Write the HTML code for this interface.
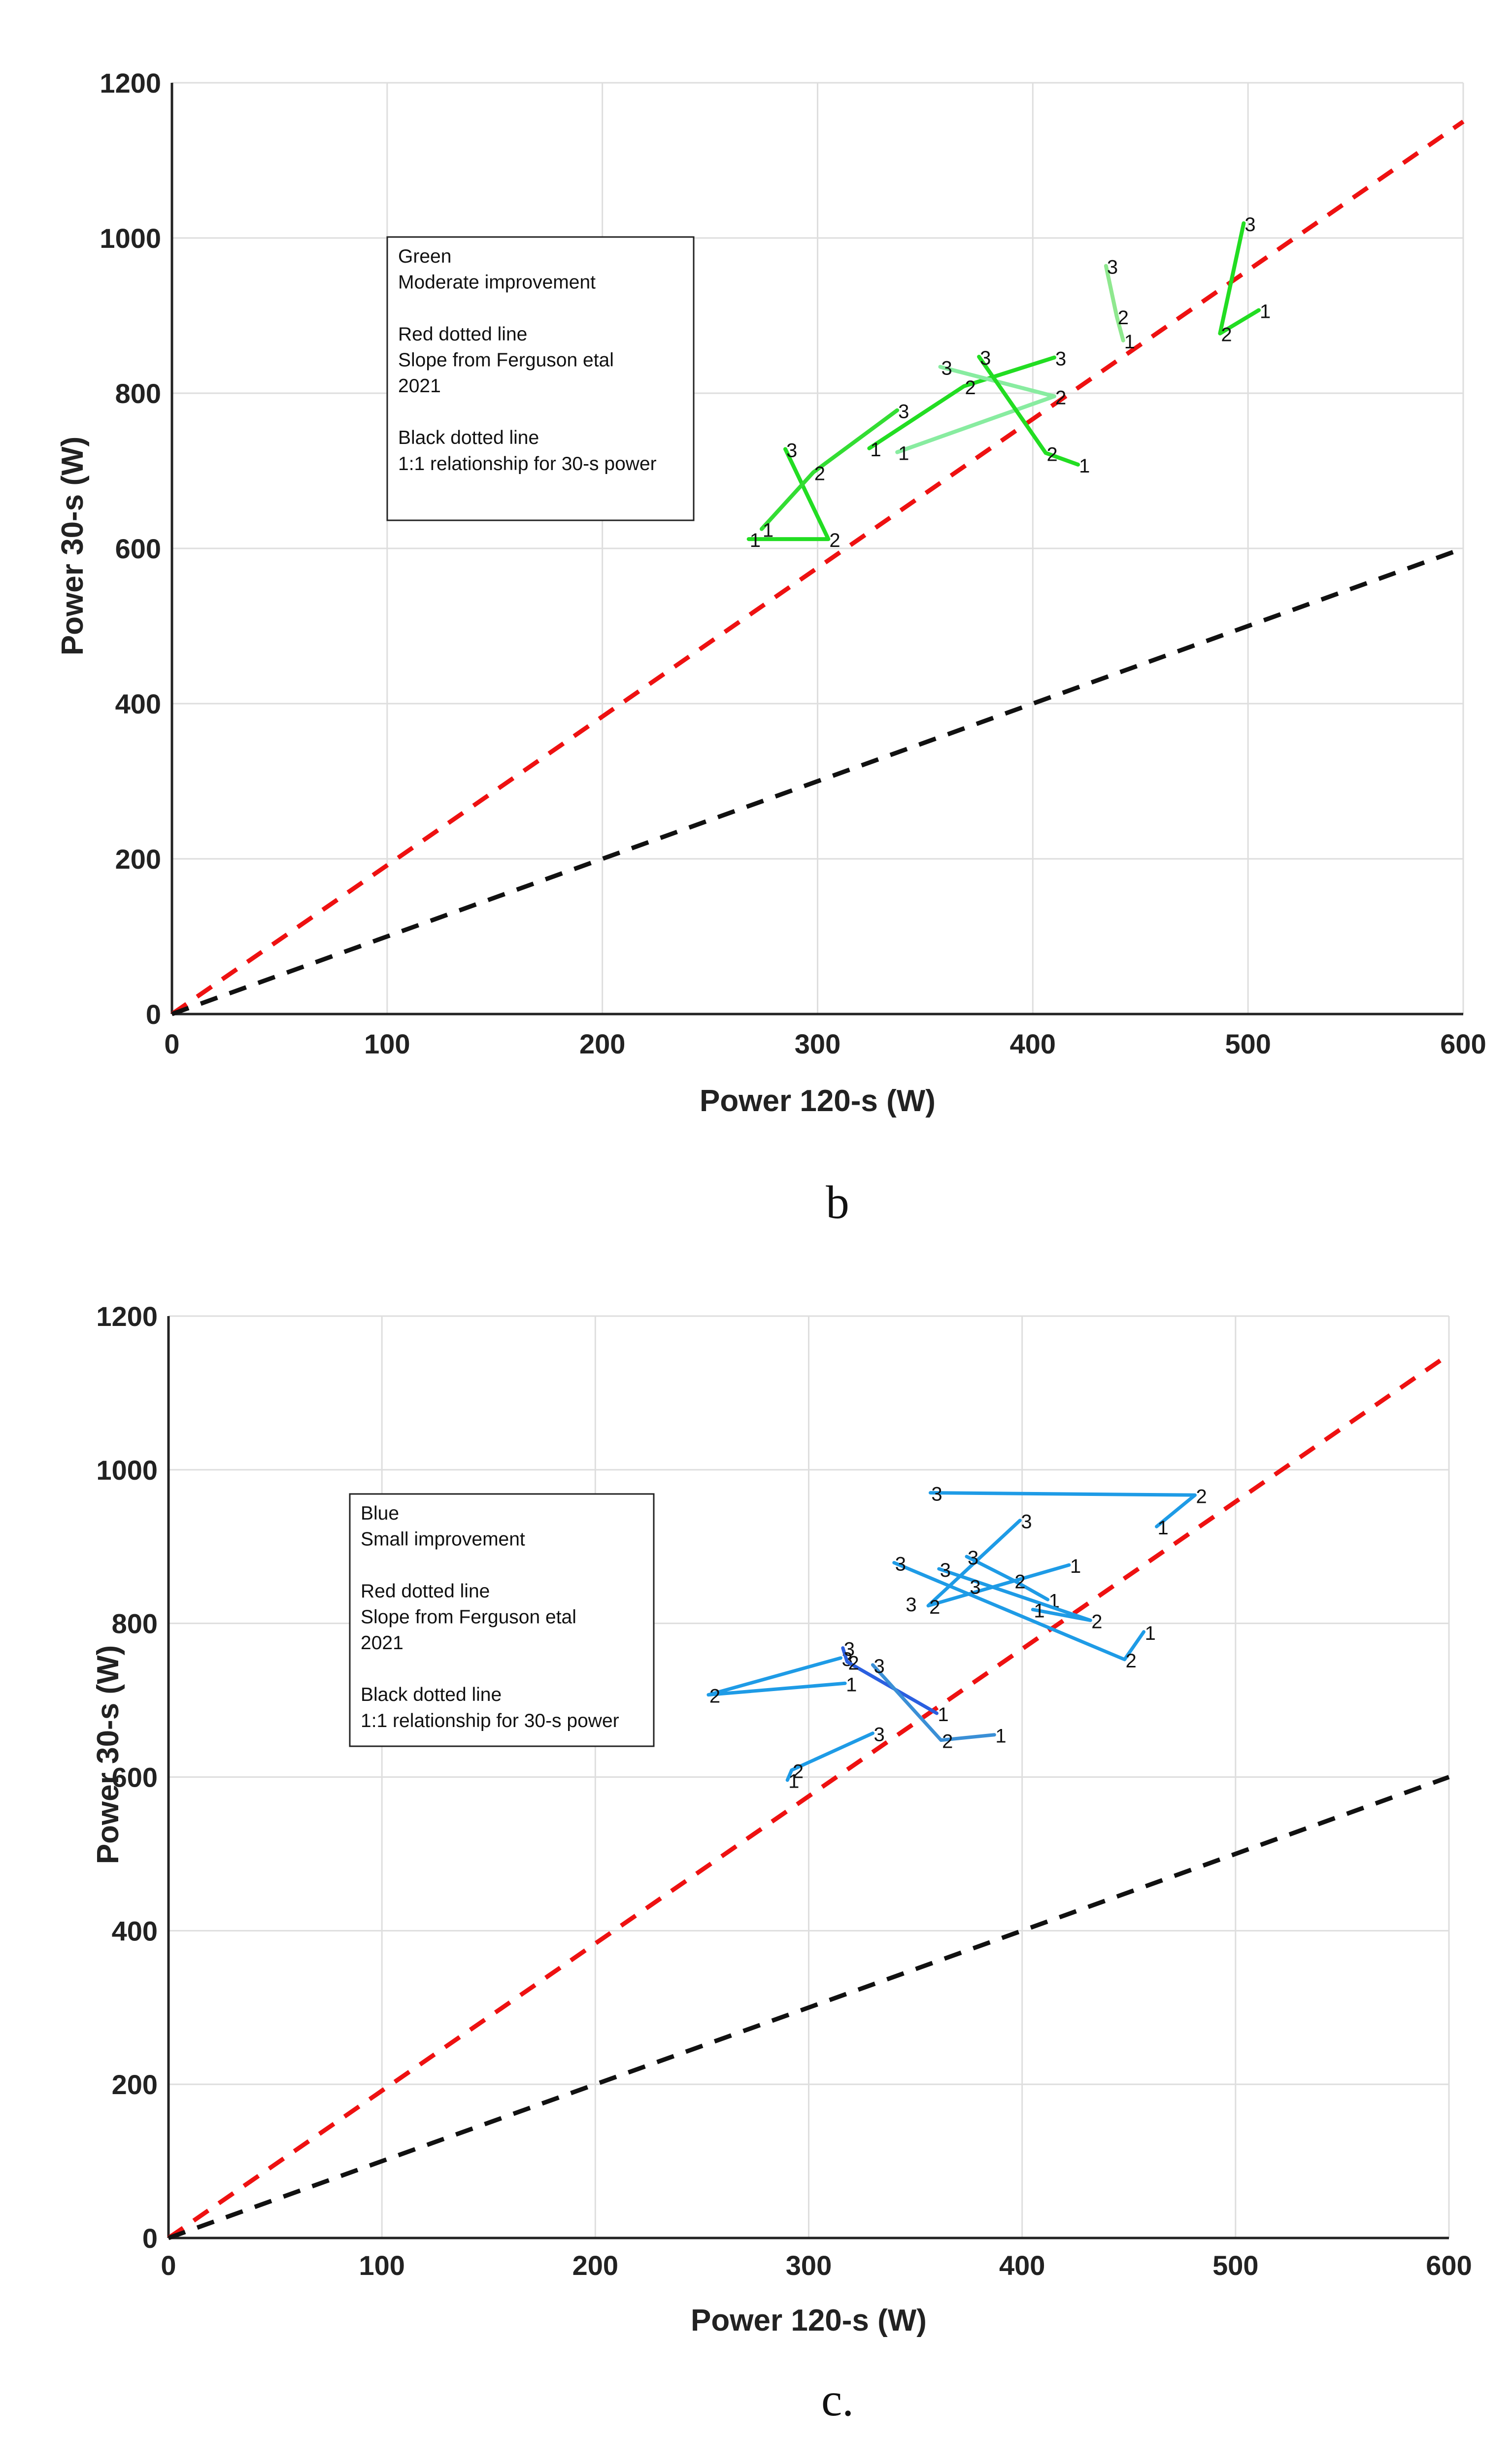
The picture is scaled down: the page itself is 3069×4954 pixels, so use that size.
<!DOCTYPE html>
<html><head><meta charset="utf-8">
<style>
html,body{margin:0;padding:0;background:#fff;}
svg{display:block;}
text{font-family:"Liberation Sans",Arial,sans-serif;}
</style></head>
<body>
<svg id="fig" xmlns="http://www.w3.org/2000/svg" width="3069" height="4954" viewBox="0 0 3069 4954">
<rect width="3069" height="4954" fill="#fff"/>
<g id="chartB"></g>
<g id="chartC"></g>
</svg>
<script>
// ---- shared axis tick data ----
const xTicks = [0,100,200,300,400,500,600];
const yTicks = [0,200,400,600,800,1000,1200];
const fergusonSlope = 1.9167;
const unitySlope = 1;

// ---- chart b (green) : series of [x120, y30] for sessions 1,2,3 ----
const bSeriesX = [
  [268,305,285],
  [274,298,337],
  [324,368,410],
  [337,410,357],
  [421,406,375],
  [442,439,434],
  [505,487,498]
];
const bSeriesY = [
  [612,612,728],
  [625,698,778],
  [729,809,846],
  [724,796,834],
  [708,723,847],
  [868,899,964],
  [907,877,1019]
];
const bColors = ['#22dd22','#33dd33','#22dd22','#88ecA0','#22dd22','#8fe88f','#22dd22'];
const bLegend = ['Green','Moderate improvement','','Red dotted line','Slope from Ferguson etal','2021','','Black dotted line','1:1 relationship for 30-s power'];

// ---- chart c (blue) ----
const cSeriesX = [
  [463,481,357],
  [422,356,399],
  [412,396,374],
  [405,432,361],
  [457,448,340],
  [317,253,315],
  [360,318,316],
  [387,362,330],
  [290,292,330]
];
const cSeriesY = [
  [926,967,970],
  [876,823,934],
  [831,856,887],
  [818,804,871],
  [789,753,879],
  [722,707,755],
  [683,750,768],
  [655,648,746],
  [596,609,657]
];
const cColors = ['#1e9be6','#1e9be6','#1e9be6','#1e9be6','#1e9be6','#1e9be6','#2a5fe0','#3a8fd6','#1e9be6'];
const cExtraX = [345,375];
const cExtraY = [826,849];
const cLegend = ['Blue','Small improvement','','Red dotted line','Slope from Ferguson etal','2021','','Black dotted line','1:1 relationship for 30-s power'];

const NS='http://www.w3.org/2000/svg';
function mk(parent, tag, attrs, txt){
  const e=document.createElementNS(NS,tag);
  for(const k in attrs) e.setAttribute(k,attrs[k]);
  if(txt!==undefined) e.textContent=txt;
  parent.appendChild(e); return e;
}

function drawChart(g, cfg, sx, sy, colors, legend, extraX, extraY){
  const X=v=>cfg.x0+(v/600)*(cfg.x1-cfg.x0);
  const Y=v=>cfg.y0-(v/1200)*(cfg.y0-cfg.y1);
  xTicks.forEach(t=>{
    const l=mk(g,'line',{x1:X(t),x2:X(t),y1:cfg.y1,y2:cfg.y0,stroke:'#dedede','stroke-width':3});
    
    
  });
  yTicks.forEach(t=>{
    const l=mk(g,'line',{x1:cfg.x0,x2:X(600),y1:Y(t),y2:Y(t),stroke:'#dedede','stroke-width':3});
    
    
  });
  const ax=mk(g,'line',{x1:cfg.x0,x2:X(600),y1:cfg.y0,y2:cfg.y0,stroke:'#222','stroke-width':5});
  
  
  const ay=mk(g,'line',{x1:cfg.x0,x2:cfg.x0,y1:cfg.y1,y2:cfg.y0,stroke:'#222','stroke-width':5});
  
  
  xTicks.forEach(t=>{
    const tx=mk(g,'text',{x:X(t),y:cfg.xTickY,'font-size':56,'font-weight':'bold','text-anchor':'middle',fill:'#222'},String(t));
    
    
  });
  yTicks.forEach(t=>{
    const tx=mk(g,'text',{x:cfg.x0-22,y:Y(t)+20,'font-size':56,'font-weight':'bold','text-anchor':'end',fill:'#222'},String(t));
    
    
  });
  const rl=mk(g,'line',{x1:X(0),y1:Y(0),x2:X(600),y2:Y(600*fergusonSlope),stroke:'#ee1111','stroke-width':9,'stroke-dasharray':'36 26'});
  
  
  const bl=mk(g,'line',{x1:X(0),y1:Y(0),x2:X(600),y2:Y(600*unitySlope),stroke:'#111','stroke-width':9,'stroke-dasharray':'36 26'});
  
  
  const lb=mk(g,'rect',{x:cfg.lx,y:cfg.ly,width:cfg.lw,height:cfg.lh,fill:'#fff',stroke:'#222','stroke-width':3});
  
  
  legend.forEach((s,i)=>{
    if(!s) return;
    const t=mk(g,'text',{x:cfg.lx+22,y:cfg.ly+52+i*52.6,'font-size':39,fill:'#111'},s);
    
    
  });
  sx.forEach((xs,i)=>{
    const pts=xs.map((v,j)=>X(v)+','+Y(sy[i][j])).join(' ');
    const pl=mk(g,'polyline',{points:pts,fill:'none',stroke:colors[i],'stroke-width':cfg.lw2,'stroke-linejoin':'round','stroke-linecap':'round'});
    
    
    xs.forEach((v,j)=>{
      const t=mk(g,'text',{x:X(v)+2,y:Y(sy[i][j])+16,'font-size':40,fill:'#111'},String(j+1));
      
      
    });
  });
  if(extraX){
    extraX.forEach((v,k)=>{
      const t=mk(g,'text',{x:X(v)+2,y:Y(extraY[k])+16,'font-size':40,fill:'#111'},'3');
      
      
    });
  }
  const xt=mk(g,'text',{x:(cfg.x0+X(600))/2,y:cfg.xLabY,'font-size':62,'font-weight':'bold','text-anchor':'middle',fill:'#222'},'Power 120-s (W)');
  
  
  const yt=mk(g,'text',{x:0,y:0,'font-size':62,'font-weight':'bold','text-anchor':'middle',fill:'#222',transform:'translate('+cfg.yLabX+','+cfg.yLabY+') rotate(-90)'},'Power 30-s (W)');
  
  
  const cap=mk(g,'text',{x:1700,y:cfg.capY,'font-size':95,'text-anchor':'middle',fill:'#111'},cfg.cap);
  cap.style.fontFamily='"Liberation Serif", serif';
  
  
}

drawChart(document.getElementById('chartB'),
  {x0:349,x1:2970,y0:2058,y1:168,xTickY:2138,xLabY:2255,yLabX:168,yLabY:1108,capY:2472,cap:'b',
   lx:786,ly:481,lw:622,lh:575,lw2:8},
  bSeriesX,bSeriesY,bColors,bLegend);
drawChart(document.getElementById('chartC'),
  {x0:342,x1:2941,y0:4542,y1:2671,xTickY:4617,xLabY:4730,yLabX:240,yLabY:3561,capY:4902,cap:'c.',
   lx:710,ly:3032,lw:617,lh:512,lw2:7},
  cSeriesX,cSeriesY,cColors,cLegend,cExtraX,cExtraY);
</script>
</body></html>
